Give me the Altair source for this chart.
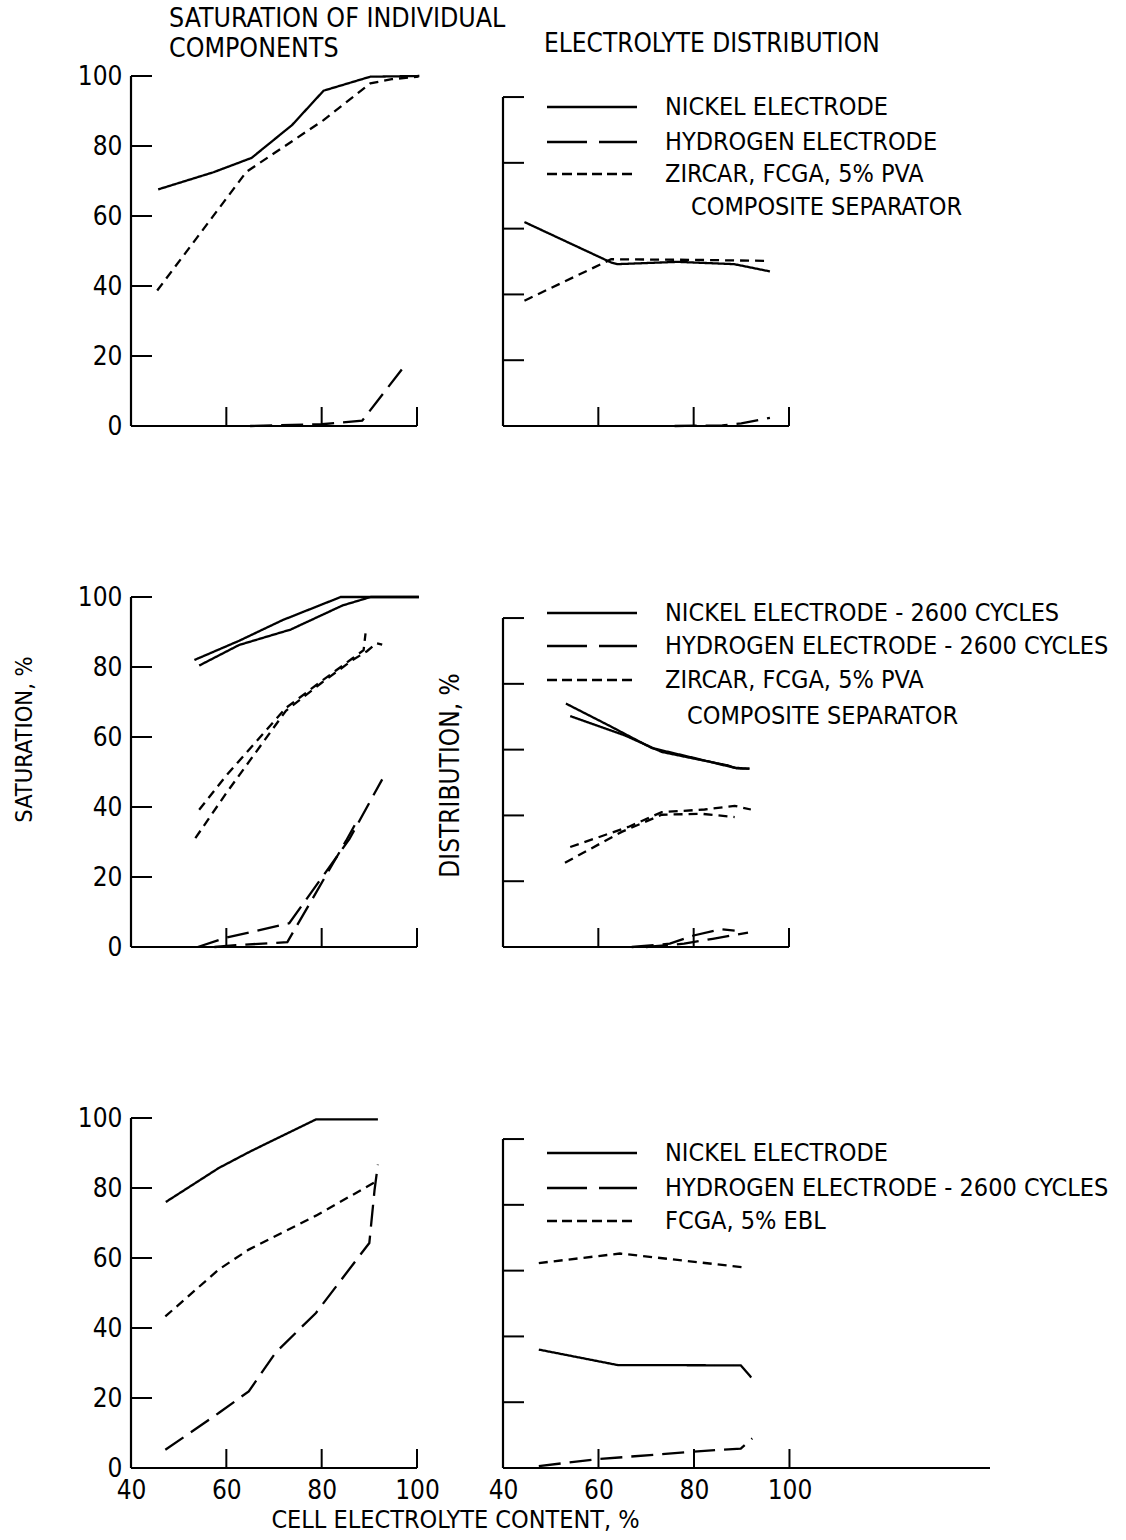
import altair as alt
import pandas as pd

FONT = "DejaVu Sans Condensed, Liberation Sans Narrow, DejaVu Sans, sans-serif"

# ---------------- data ----------------
# Row 1, left: saturation of individual components
tl_ni_x = [45.7, 57.3, 65.3, 73.8, 80.4, 90.2, 100.5]
tl_ni_y = [67.6, 72.5, 76.6, 86.0, 95.8, 99.8, 100.0]
tl_h_x = [65.0, 80.0, 88.5, 97.0]
tl_h_y = [0.0, 0.5, 1.5, 16.5]
tl_s_x = [45.5, 64.2, 80.4, 90.2, 94.7, 100.3]
tl_s_y = [38.7, 72.6, 87.4, 97.9, 99.1, 99.8]

# Row 1, right: electrolyte distribution
tr_ni_x = [44.5, 62.7, 64.0, 76.6, 88.5, 96.0]
tr_ni_y = [62.0, 49.7, 49.2, 49.9, 49.2, 47.0]
tr_h_x = [76.0, 86.0, 90.0, 96.0]
tr_h_y = [0.0, 0.2, 0.8, 2.5]
tr_s_x = [44.5, 62.7, 80.0, 95.8]
tr_s_y = [38.1, 50.7, 50.5, 50.2]

# Row 2, left (two runs each)
ml_ni1_x = [53.3, 62.7, 71.8, 84.0, 100.4]
ml_ni1_y = [82.0, 87.5, 93.4, 100.0, 100.0]
ml_ni2_x = [54.3, 62.7, 73.5, 84.4, 90.3, 100.4]
ml_ni2_y = [80.4, 86.3, 90.7, 97.6, 100.0, 100.0]
ml_s1_x = [54.3, 60.0, 72.5, 80.0, 86.5, 88.8, 89.2]
ml_s1_y = [39.2, 49.0, 68.3, 76.0, 82.5, 84.8, 89.6]
ml_s2_x = [53.5, 60.0, 72.5, 80.0, 86.5, 89.5, 91.5, 92.7]
ml_s2_y = [31.1, 44.0, 67.5, 75.5, 82.0, 84.5, 86.8, 86.4]
ml_h1_x = [54.0, 59.5, 73.2, 85.8, 92.7]
ml_h1_y = [0.0, 2.5, 6.8, 30.8, 47.9]
ml_h2_x = [57.5, 62.0, 72.8, 85.1, 87.2]
ml_h2_y = [0.0, 0.5, 1.4, 30.3, 35.5]

# Row 2, right (two runs each)
mr_ni1_x = [53.2, 62.0, 71.2, 80.0, 88.5, 91.7]
mr_ni1_y = [74.0, 67.5, 60.5, 57.5, 54.5, 54.2]
mr_ni2_x = [54.1, 65.6, 73.3, 80.0, 87.2, 89.0, 91.7]
mr_ni2_y = [70.2, 64.3, 59.3, 57.3, 55.2, 54.3, 54.2]
mr_s1_x = [54.1, 66.3, 73.3, 82.3, 88.6, 92.0]
mr_s1_y = [30.4, 36.5, 41.0, 41.8, 42.9, 41.8]
mr_s2_x = [53.0, 64.9, 73.3, 81.6, 88.6]
mr_s2_y = [25.6, 35.0, 40.2, 40.5, 39.5]
mr_h1_x = [67.0, 75.0, 80.0, 85.8, 88.6]
mr_h1_y = [0.0, 1.0, 3.5, 5.4, 5.0]
mr_h2_x = [70.0, 78.0, 84.0, 91.4]
mr_h2_y = [0.0, 1.0, 2.5, 4.4]

# Row 3, left
bl_ni_x = [47.3, 58.4, 65.1, 78.8, 91.8]
bl_ni_y = [76.0, 85.7, 90.5, 99.6, 99.6]
bl_s_x = [47.2, 58.4, 64.7, 78.8, 91.1, 91.8]
bl_s_y = [43.3, 56.7, 62.4, 72.1, 81.6, 81.9]
bl_h_x = [47.2, 58.4, 64.7, 70.3, 78.8, 90.0, 91.1, 91.8]
bl_h_y = [5.2, 15.7, 21.9, 32.9, 44.3, 64.3, 79.5, 86.7]

# Row 3, right
br_ni_x = [47.5, 64.0, 89.8, 92.0]
br_ni_y = [36.0, 31.3, 31.2, 27.5]
br_h_x = [47.5, 60.0, 80.0, 89.8, 92.2]
br_h_y = [0.6, 2.7, 5.0, 5.9, 9.0]
br_s_x = [47.5, 64.5, 90.5]
br_s_y = [62.3, 65.2, 61.0]

# tick values / labels
X_LABELS = [40, 60, 80, 100]
X_TICKS = [60, 80, 100]
Y_VALUES = [0, 20, 40, 60, 80, 100]
Y_TICKS = [20, 40, 60, 80, 100]

SERIES = ["nickel", "hydrogen", "separator"]

LEG1 = ["NICKEL ELECTRODE", "HYDROGEN ELECTRODE", "ZIRCAR, FCGA, 5% PVA", "COMPOSITE SEPARATOR"]
LEG2 = ["NICKEL ELECTRODE - 2600 CYCLES", "HYDROGEN ELECTRODE - 2600 CYCLES",
        "ZIRCAR, FCGA, 5% PVA", "COMPOSITE SEPARATOR"]
LEG3 = ["NICKEL ELECTRODE", "HYDROGEN ELECTRODE - 2600 CYCLES", "FCGA, 5% EBL"]

TITLE_L = ["SATURATION OF INDIVIDUAL", "COMPONENTS"]
TITLE_R = "ELECTROLYTE DISTRIBUTION"
Y_TITLE_L = "SATURATION, %"
Y_TITLE_R = "DISTRIBUTION, %"
X_TITLE = "CELL ELECTROLYTE CONTENT, %"

# ---------------- styling ----------------
DASH_CURVE = [[1, 0], [22, 9], [9, 6]]
DASH_LEG = [[1, 0], [40, 12], [10, 5]]
H = 350
PXU = 4.77
LW = 2.3
RIGHT_YMAX = 106.4
TICK_FS = 26
LEG_FS = 25


def frame(curves):
    rows = []
    for series, run, xs, ys in curves:
        for x, y in zip(xs, ys):
            rows.append({"series": series, "run": run, "x": x, "y": y})
    return pd.DataFrame(rows)


ONE = pd.DataFrame({"k": [0]})


def panel(curves, xmax, ymax, xlabels=False, ytitle=None, ytitle_pos=None,
          xtitle=None, xtitle_pos=None, ylabels=True, title=None, legend=None):
    width = round((xmax - 40) * PXU)
    xscale = alt.Scale(domain=[40, xmax], nice=False, zero=False)
    yscale = alt.Scale(domain=[0, ymax], nice=False, zero=False)

    xax = dict(values=X_LABELS, domain=False, ticks=False, grid=False, labels=xlabels,
               labelFontSize=TICK_FS, labelPadding=9, labelFont=FONT, labelColor="black",
               labelFlush=False, labelOverlap=False, format="d", title=None)
    if xtitle:
        xax.update(title=xtitle, titleX=xtitle_pos[0], titleY=xtitle_pos[1],
                   titleAlign="center", titleBaseline="alphabetic", titleFontSize=25,
                   titleFont=FONT, titleFontWeight="normal", titleColor="black")
    yax = dict(values=Y_VALUES, domain=False, ticks=False, grid=False, labels=ylabels,
               labelFontSize=TICK_FS, labelPadding=9, labelFont=FONT, labelColor="black",
               labelFlush=False, labelOverlap=False, format="d", title=None)
    if ytitle:
        yax.update(title=ytitle, titleX=ytitle_pos[0], titleY=ytitle_pos[1],
                   titleAngle=270, titleAlign="center", titleBaseline="alphabetic",
                   titleFontSize=ytitle_pos[2], titleFont=FONT, titleFontWeight="normal",
                   titleColor="black")
    xaxis = alt.Axis(**xax)
    yaxis = alt.Axis(**yax)

    df = frame(curves)
    lines = alt.Chart(df).mark_line(strokeWidth=LW, color="black", clip=False).encode(
        x=alt.X("x:Q", scale=xscale, axis=xaxis),
        y=alt.Y("y:Q", scale=yscale, axis=yaxis),
        strokeDash=alt.StrokeDash("series:N", scale=alt.Scale(domain=SERIES, range=DASH_CURVE),
                                  legend=None),
        detail="run:N",
    )
    yline = alt.Chart(ONE).mark_rule(strokeWidth=2.2, color="black").encode(
        x=alt.value(0), y=alt.YDatum(0, scale=yscale, axis=yaxis), y2=alt.datum(100))
    xline = alt.Chart(ONE).mark_rule(strokeWidth=2.2, color="black").encode(
        y=alt.value(H), x=alt.value(0), x2=alt.value(width))
    yt = alt.Chart(pd.DataFrame({"y": Y_TICKS})).mark_rule(strokeWidth=2, color="black").encode(
        y=alt.Y("y:Q", scale=yscale, axis=yaxis), x=alt.value(0), x2=alt.value(21))
    xt = alt.Chart(pd.DataFrame({"x": X_TICKS})).mark_rule(strokeWidth=2, color="black").encode(
        x=alt.X("x:Q", scale=xscale, axis=xaxis), y=alt.value(H), y2=alt.value(H - 19))
    layers = [lines, yline, xline, yt, xt]

    if legend:
        for (label, dash_i, ly, tx, ty) in legend:
            if dash_i is not None:
                layers.append(alt.Chart(ONE).mark_rule(
                    strokeWidth=LW, color="black", strokeDash=DASH_LEG[dash_i]).encode(
                    x=alt.value(44), x2=alt.value(134), y=alt.value(ly)))
            layers.append(alt.Chart(ONE).mark_text(
                align="left", baseline="middle", fontSize=LEG_FS, font=FONT, color="black").encode(
                x=alt.value(tx), y=alt.value(ty), text=alt.value(label)))

    ch = alt.layer(*layers)
    props = dict(width=width, height=H)
    if title is not None:
        props["title"] = title
    return ch.properties(**props)


# ---------- panels ----------
tl = panel([("nickel", "n", tl_ni_x, tl_ni_y), ("hydrogen", "h", tl_h_x, tl_h_y),
            ("separator", "s", tl_s_x, tl_s_y)], 100, 100,
           title=alt.TitleParams(TITLE_L, anchor="start", frame="group", dx=38, offset=1,
                                 fontSize=26.5, font=FONT, fontWeight="normal", lineHeight=30,
                                 color="black"))
tr = panel([("nickel", "n", tr_ni_x, tr_ni_y), ("hydrogen", "h", tr_h_x, tr_h_y),
            ("separator", "s", tr_s_x, tr_s_y)], 100, RIGHT_YMAX, ylabels=False,
           title=alt.TitleParams(TITLE_R, anchor="start", frame="group", dx=41, offset=19,
                                 fontSize=26, font=FONT, fontWeight="normal", color="black"),
           legend=[(LEG1[0], 0, 31, 162, 31), (LEG1[1], 1, 66, 162, 66),
                   (LEG1[2], 2, 98, 162, 98), (LEG1[3], None, 0, 188, 131)])

ml = panel([("nickel", "n1", ml_ni1_x, ml_ni1_y), ("nickel", "n2", ml_ni2_x, ml_ni2_y),
            ("separator", "s1", ml_s1_x, ml_s1_y), ("separator", "s2", ml_s2_x, ml_s2_y),
            ("hydrogen", "h1", ml_h1_x, ml_h1_y), ("hydrogen", "h2", ml_h2_x, ml_h2_y)],
           100, 100, ytitle=Y_TITLE_L, ytitle_pos=(-100, 142, 23.5))
mr = panel([("nickel", "n1", mr_ni1_x, mr_ni1_y), ("nickel", "n2", mr_ni2_x, mr_ni2_y),
            ("separator", "s1", mr_s1_x, mr_s1_y), ("separator", "s2", mr_s2_x, mr_s2_y),
            ("hydrogen", "h1", mr_h1_x, mr_h1_y), ("hydrogen", "h2", mr_h2_x, mr_h2_y)],
           100, RIGHT_YMAX, ylabels=False, ytitle=Y_TITLE_R, ytitle_pos=(-45, 178, 26),
           legend=[(LEG2[0], 0, 16, 162, 16), (LEG2[1], 1, 49, 162, 49),
                   (LEG2[2], 2, 83, 162, 83), (LEG2[3], None, 0, 184, 119)])

bl = panel([("nickel", "n", bl_ni_x, bl_ni_y), ("hydrogen", "h", bl_h_x, bl_h_y),
            ("separator", "s", bl_s_x, bl_s_y)], 100, 100, xlabels=True,
           xtitle=X_TITLE, xtitle_pos=(324, 59))
br = panel([("nickel", "n", br_ni_x, br_ni_y), ("hydrogen", "h", br_h_x, br_h_y),
            ("separator", "s", br_s_x, br_s_y)], 142, RIGHT_YMAX, xlabels=True, ylabels=False,
           legend=[(LEG3[0], 0, 35, 162, 35), (LEG3[1], 1, 70, 162, 70),
                   (LEG3[2], 2, 103, 162, 103)])

chart = alt.concat(tl, tr, ml, mr, bl, br, columns=2,
                   spacing={"row": 171, "column": 86}, bounds="flush").properties(
    background="white",
    padding={"left": 12, "top": 5, "right": 5, "bottom": 5},
).configure_view(stroke=None)

chart.save("out.html", embed_options={"renderer": "svg", "actions": False})
